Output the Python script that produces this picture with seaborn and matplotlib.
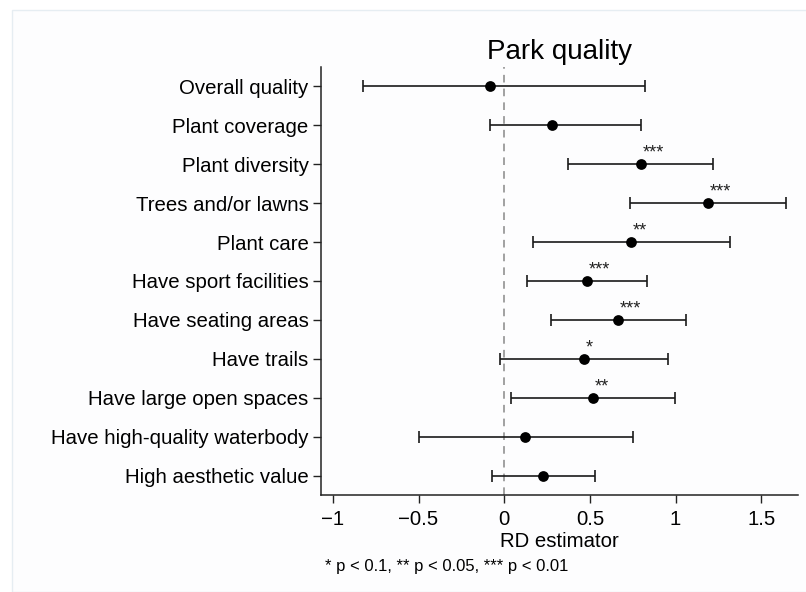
import matplotlib
matplotlib.use("Agg")
import matplotlib.pyplot as plt
import seaborn as sns
import pandas as pd
from matplotlib.patches import Rectangle

categories = ["Overall quality", "Plant coverage", "Plant diversity", "Trees and/or lawns",
              "Plant care", "Have sport facilities", "Have seating areas", "Have trails",
              "Have large open spaces", "Have high-quality waterbody", "High aesthetic value"]
estimate = [-0.082, 0.278, 0.797, 1.19, 0.742, 0.482, 0.665, 0.465, 0.519, 0.124, 0.226]
ci_low = [-0.824, -0.082, 0.375, 0.735, 0.165, 0.132, 0.270, -0.027, 0.039, -0.496, -0.072]
ci_high = [0.820, 0.797, 1.217, 1.642, 1.318, 0.832, 1.059, 0.956, 0.999, 0.750, 0.529]
stars = ["", "", "***", "***", "**", "***", "***", "*", "**", "", ""]
xticks = [-1, -0.5, 0, 0.5, 1, 1.5]
xtick_labels = ["\u22121", "\u22120.5", "0", "0.5", "1", "1.5"]

df = pd.DataFrame({"cat": categories, "est": estimate, "lo": ci_low, "hi": ci_high,
                   "stars": stars})
df["pos"] = range(len(df))

sns.set_theme(style="white")
plt.rcParams["font.family"] = ["Liberation Sans", "DejaVu Sans"]

fig = plt.figure(figsize=(8.06, 5.92), dpi=100)
fig.patch.set_facecolor("white")
# faint outer frame
fig.patches.append(Rectangle((12 / 806, 0), 1, 1 - 10 / 592, transform=fig.transFigure,
                             facecolor="#fdfdfe", edgecolor="#e6edf2", lw=1.0, zorder=-10))

ax = fig.add_axes([321 / 806, 1 - 495 / 592, (798 - 321) / 806, (495 - 67) / 592])
ax.set_facecolor("none")

ax.axvline(0, color="#888888", lw=1.1, ls=(0, (5, 4)), zorder=1)

ax.errorbar(df["est"], df["pos"],
            xerr=[df["est"] - df["lo"], df["hi"] - df["est"]],
            fmt="none", ecolor="#1a1a1a", elinewidth=1.2, capsize=4.3, capthick=1.2, zorder=2)
sns.scatterplot(data=df, x="est", y="pos", ax=ax, color="black", s=60,
                edgecolor="black", linewidth=0, zorder=3, legend=False)

for _, r in df.iterrows():
    if r["stars"]:
        ax.annotate(r["stars"], (r["est"], r["pos"]), xytext=(1.0, 5.0),
                    textcoords="offset points", ha="left", va="baseline",
                    fontsize=13, color="#222222")

ax.set_xlim(-1.069, 1.714)
ax.set_ylim(10.49, -0.49)
ax.set_yticks(df["pos"])
ax.set_yticklabels(categories)
ax.set_xticks(xticks)
ax.set_xticklabels(xtick_labels)

ax.tick_params(axis="y", length=5.5, width=1, color="#222222", labelsize=14.7, pad=3.5,
               left=True, labelcolor="black")
ax.tick_params(axis="x", length=5.8, width=1, color="#222222", labelsize=14.7, pad=5,
               bottom=True, labelcolor="black")
for s in ["top", "right"]:
    ax.spines[s].set_visible(False)
for s in ["left", "bottom"]:
    ax.spines[s].set_color("#222222")
    ax.spines[s].set_linewidth(1.1)

ax.set_xlabel("RD estimator", fontsize=14.7, labelpad=2, color="black")
ax.set_ylabel("")
ax.set_title("Park quality", fontsize=20, pad=6, color="black")

fig.text(325 / 806, 1 - 566 / 592, "* p < 0.1, ** p < 0.05, *** p < 0.01",
         fontsize=12, ha="left", va="center", color="black")

fig.savefig("out.png", dpi=100)
